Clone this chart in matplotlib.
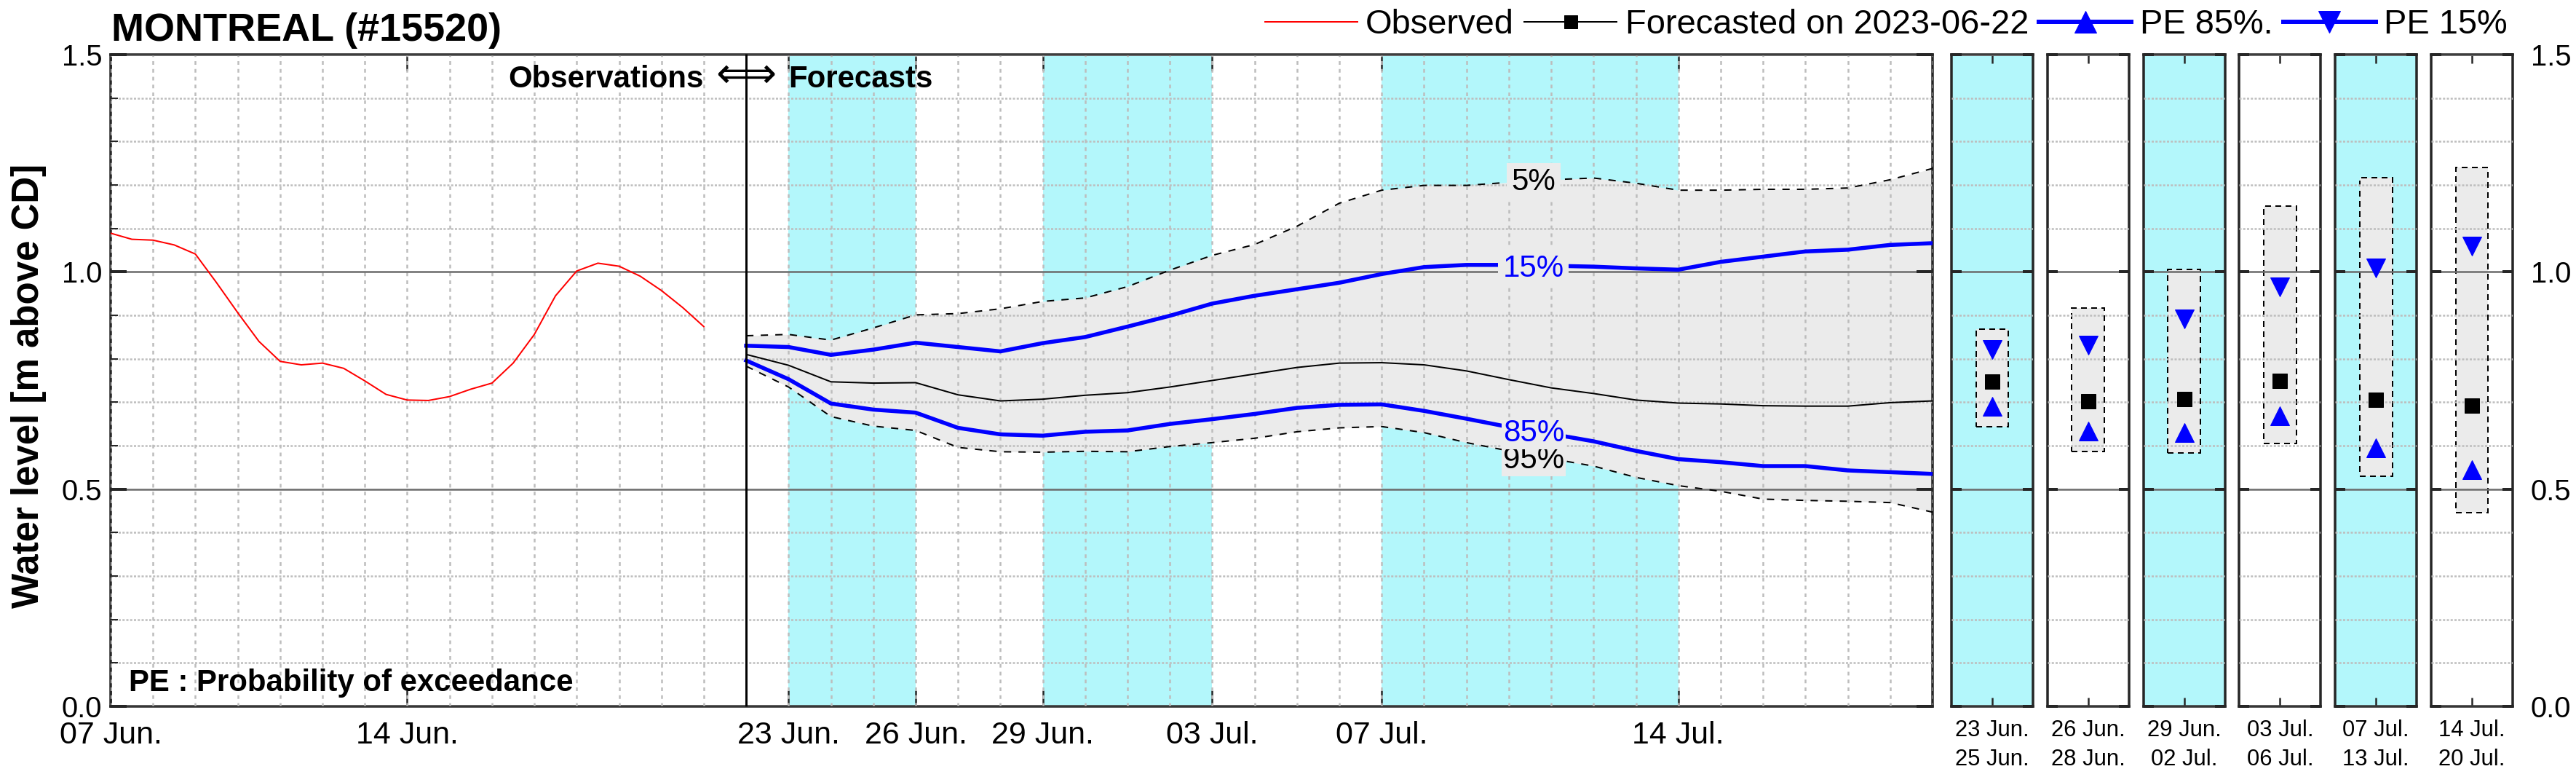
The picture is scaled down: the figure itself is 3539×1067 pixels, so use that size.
import numpy as np
import matplotlib
matplotlib.use('Agg')
import matplotlib.pyplot as plt
import matplotlib.dates as mdates
from matplotlib.lines import Line2D
from matplotlib.patches import Rectangle

FONT = ['Liberation Sans', 'DejaVu Sans']
plt.rcParams['font.family'] = FONT

# observed water level, every 12 h starting 2023-06-07 00:00
obs_start = '2023-06-07'
obs_level = [1.089, 1.075, 1.073, 1.062, 1.041, 0.975, 0.906, 0.840, 0.794, 0.786,
             0.790, 0.778, 0.749, 0.718, 0.705, 0.704, 0.713, 0.730, 0.744, 0.790,
             0.856, 0.945, 1.002, 1.020, 1.013, 0.990, 0.957, 0.918, 0.874]

# forecast issued 2023-06-22, daily values up to 2023-07-20
fc_start = '2023-06-22'
pe05 = [0.853, 0.856, 0.843, 0.871, 0.901, 0.904, 0.915, 0.932, 0.940, 0.966,
        1.004, 1.038, 1.063, 1.105, 1.158, 1.188, 1.199, 1.199, 1.206, 1.212,
        1.216, 1.204, 1.188, 1.188, 1.190, 1.190, 1.193, 1.212, 1.238]
pe15 = [0.830, 0.827, 0.809, 0.821, 0.837, 0.827, 0.817, 0.836, 0.850, 0.874,
        0.899, 0.927, 0.945, 0.960, 0.975, 0.995, 1.011, 1.016, 1.016, 1.014,
        1.012, 1.008, 1.005, 1.023, 1.035, 1.047, 1.051, 1.062, 1.066]
median = [0.810, 0.785, 0.747, 0.744, 0.745, 0.717, 0.703, 0.707, 0.716, 0.722,
          0.735, 0.750, 0.765, 0.780, 0.790, 0.791, 0.786, 0.772, 0.752, 0.733,
          0.720, 0.705, 0.698, 0.696, 0.692, 0.691, 0.691, 0.699, 0.703]
pe85 = [0.796, 0.753, 0.697, 0.683, 0.676, 0.641, 0.626, 0.623, 0.632, 0.635,
        0.650, 0.661, 0.673, 0.687, 0.694, 0.695, 0.680, 0.662, 0.643, 0.627,
        0.610, 0.588, 0.569, 0.562, 0.553, 0.553, 0.543, 0.539, 0.535]
pe95 = [0.783, 0.735, 0.667, 0.645, 0.635, 0.596, 0.586, 0.585, 0.587, 0.586,
        0.598, 0.607, 0.617, 0.632, 0.641, 0.644, 0.630, 0.607, 0.588, 0.570,
        0.553, 0.527, 0.508, 0.495, 0.477, 0.474, 0.472, 0.469, 0.447]

# summaries per period (small panels)
periods = ['23 Jun.\n25 Jun.', '26 Jun.\n28 Jun.', '29 Jun.\n02 Jul.',
           '03 Jul.\n06 Jul.', '07 Jul.\n13 Jul.', '14 Jul.\n20 Jul.']
per_pe05 = [0.868, 0.916, 1.005, 1.151, 1.216, 1.240]
per_pe15 = [0.822, 0.831, 0.891, 0.966, 1.009, 1.060]
per_median = [0.748, 0.702, 0.708, 0.749, 0.706, 0.692]
per_pe85 = [0.691, 0.633, 0.631, 0.668, 0.595, 0.544]
per_pe95 = [0.643, 0.586, 0.583, 0.605, 0.530, 0.446]
per_shaded = [True, False, True, False, True, False]

bands = [('2023-06-23', '2023-06-26'), ('2023-06-29', '2023-07-03'),
         ('2023-07-07', '2023-07-14')]
date_ticks = ['2023-06-07', '2023-06-14', '2023-06-23', '2023-06-26',
              '2023-06-29', '2023-07-03', '2023-07-07', '2023-07-14']
x_end = '2023-07-20'

CYAN = '#b3f7fb'
BAND = '#ebebeb'
SPINE = '#262626'
MAJ_GRID = '#6b6b6b'
MIN_GRID = '#bdbdbd'

W, H = 3539, 1067
fig = plt.figure(figsize=(W / 72, H / 72), dpi=72)

ax_bottom = (H - 970) / H
ax_height = 895 / H
ax = fig.add_axes([152 / W, ax_bottom, 2503 / W, ax_height])

obs_t = np.datetime64(obs_start) + np.arange(len(obs_level)) * np.timedelta64(12, 'h')
fc_t = np.datetime64(fc_start) + np.arange(len(median)) * np.timedelta64(1, 'D')

for a, b in bands:
    ax.axvspan(np.datetime64(a), np.datetime64(b), color=CYAN, lw=0, zorder=0.5)
ax.fill_between(fc_t, pe95, pe05, color=BAND, lw=0, zorder=1)

ax.plot(obs_t, obs_level, color='red', lw=2, zorder=3)
ax.plot(fc_t, pe05, color='k', lw=2, ls=(0, (5, 5)), zorder=3)
ax.plot(fc_t, pe95, color='k', lw=2, ls=(0, (5, 5)), zorder=3)
ax.plot(fc_t, median, color='k', lw=2, zorder=3)
ax.plot(fc_t, pe15, color='blue', lw=5.5, zorder=3.2)
ax.plot(fc_t, pe85, color='blue', lw=5.5, zorder=3.2)
ax.axvline(np.datetime64(fc_start), color='k', lw=3, zorder=4)

# percentile labels
lab_x = np.datetime64('2023-07-10T14:00')
ax.text(lab_x, 1.207, '5%', color='k', fontsize=42, ha='center', va='center', zorder=5,
        bbox=dict(boxstyle='square,pad=0.15', fc=BAND, ec='none'))
ax.text(lab_x, 1.008, '15%', color='blue', fontsize=42, ha='center', va='center', zorder=5,
        bbox=dict(boxstyle='square,pad=0.15', fc=BAND, ec='none'))
ax.text(lab_x, 0.628, '85%', color='blue', fontsize=42, ha='center', va='center', zorder=5.1,
        bbox=dict(boxstyle='square,pad=0.05', fc=BAND, ec='none'))
ax.text(lab_x, 0.566, '95%', color='k', fontsize=42, ha='center', va='center', zorder=5,
        bbox=dict(boxstyle='square,pad=0.05', fc=BAND, ec='none'))

# observations / forecasts header
div = np.datetime64(fc_start)
ax.text(div - np.timedelta64(1, 'D'), 1.425, 'Observations', fontsize=42, fontweight='bold',
        ha='right', va='baseline', zorder=5)
ax.text(div, 1.425, '\u27fa', fontsize=58, ha='center', va='baseline', zorder=5,
        fontfamily=['DejaVu Sans'])
ax.text(div + np.timedelta64(1, 'D'), 1.425, 'Forecasts', fontsize=42, fontweight='bold',
        ha='left', va='baseline', zorder=5)
ax.text(0.01, 0.035, 'PE : Probability of exceedance', transform=ax.get_yaxis_transform(),
        fontsize=42, fontweight='bold', ha='left', va='baseline', zorder=5)

ax.set_xlim(np.datetime64(obs_start), np.datetime64(x_end))
ax.set_ylim(0, 1.5)

tick_dates = [np.datetime64(d) for d in date_ticks]
tick_labels = [mdates.num2date(mdates.date2num(d)).strftime('%d %b.') for d in tick_dates]
ax.set_xticks(tick_dates, labels=tick_labels, fontsize=43)
ax.xaxis.set_minor_locator(mdates.DayLocator())
ax.xaxis.remove_overlapping_locs = False
ax.set_yticks([0, 0.5, 1.0, 1.5], labels=['0.0', '0.5', '1.0', '1.5'], fontsize=40)
ax.set_yticks(np.arange(0, 1.51, 0.1), minor=True)

ax.tick_params(axis='x', which='major', direction='in', length=22, width=2.5,
               top=True, bottom=True, pad=20, color=SPINE)
ax.tick_params(axis='x', which='minor', length=0)
ax.tick_params(axis='y', which='major', direction='in', length=22, width=4,
               left=True, right=True, pad=12, color=SPINE)
ax.tick_params(axis='y', which='minor', direction='in', length=10, width=2,
               left=True, right=False, color=SPINE)

ax.set_axisbelow(False)
ax.grid(True, which='major', axis='y', color=MAJ_GRID, lw=2.5, ls='-')
ax.grid(True, which='minor', axis='y', color=MIN_GRID, lw=2.5, ls=(0, (1.2, 0.9)))
ax.grid(True, which='minor', axis='x', color=MIN_GRID, lw=2.5, ls=(0, (2, 2.3)))
for s in ax.spines.values():
    s.set_color(SPINE)
    s.set_linewidth(3.5)

# small period panels
for i in range(len(periods)):
    pax = fig.add_axes([(2681 + i * 131.8) / W, ax_bottom, 112 / W, ax_height])
    if per_shaded[i]:
        pax.set_facecolor(CYAN)
    pax.add_patch(Rectangle((0.3, per_pe95[i]), 0.4, per_pe05[i] - per_pe95[i],
                            fc=BAND, ec='k', lw=2, ls=(0, (4, 3)), zorder=1))
    pax.plot(0.5, per_pe15[i], marker='v', ms=26, color='blue', ls='none', zorder=4)
    pax.plot(0.5, per_median[i], marker='s', ms=20, color='k', ls='none', zorder=4)
    pax.plot(0.5, per_pe85[i], marker='^', ms=26, color='blue', ls='none', zorder=4)
    pax.set_xlim(0, 1)
    pax.set_ylim(0, 1.5)
    pax.set_xticks([0.5], labels=[periods[i]], fontsize=31, linespacing=1.42)
    pax.set_yticks([0, 0.5, 1.0, 1.5])
    pax.set_yticks(np.arange(0, 1.51, 0.1), minor=True)
    pax.tick_params(axis='x', direction='in', length=12, width=2.5, top=True,
                    bottom=True, pad=18, color=SPINE)
    pax.tick_params(axis='y', which='major', direction='in', length=14, width=4,
                    left=True, right=True, labelleft=False,
                    labelright=(i == len(periods) - 1), pad=25, labelsize=40,
                    color=SPINE)
    pax.tick_params(axis='y', which='minor', length=0)
    if i == len(periods) - 1:
        pax.set_yticks([0, 0.5, 1.0, 1.5], labels=['0.0', '0.5', '1.0', '1.5'])
    pax.set_axisbelow(False)
    pax.grid(True, which='major', axis='y', color=MAJ_GRID, lw=2.5, ls='-')
    pax.grid(True, which='minor', axis='y', color=MIN_GRID, lw=2.5, ls=(0, (1.2, 0.9)))
    for s in pax.spines.values():
        s.set_color(SPINE)
        s.set_linewidth(3.5)

# title, y label, legend
fig.text(153 / W, 1 - 56 / H, 'MONTREAL (#15520)', fontsize=54, fontweight='bold',
         ha='left', va='baseline')
fig.text(40 / W, 1 - 530 / H, 'Water level [m above CD]', fontsize=51, fontweight='bold',
         rotation=90, ha='center', va='center')

handles = [
    Line2D([], [], color='red', lw=2),
    Line2D([], [], color='k', lw=2, marker='s', ms=18),
    Line2D([], [], color='blue', lw=6, marker='^', ms=30),
    Line2D([], [], color='blue', lw=6, marker='v', ms=30),
]
labels = ['Observed', 'Forecasted on 2023-06-22', 'PE 85%.', 'PE 15%']
fig.legend(handles, labels, loc='center right', bbox_to_anchor=(3445 / W, 1 - 34 / H),
           ncol=4, frameon=False, fontsize=47, handlelength=2.7, handletextpad=0.25,
           columnspacing=0.3, borderaxespad=0, borderpad=0)

fig.savefig('out.png', dpi=72)
